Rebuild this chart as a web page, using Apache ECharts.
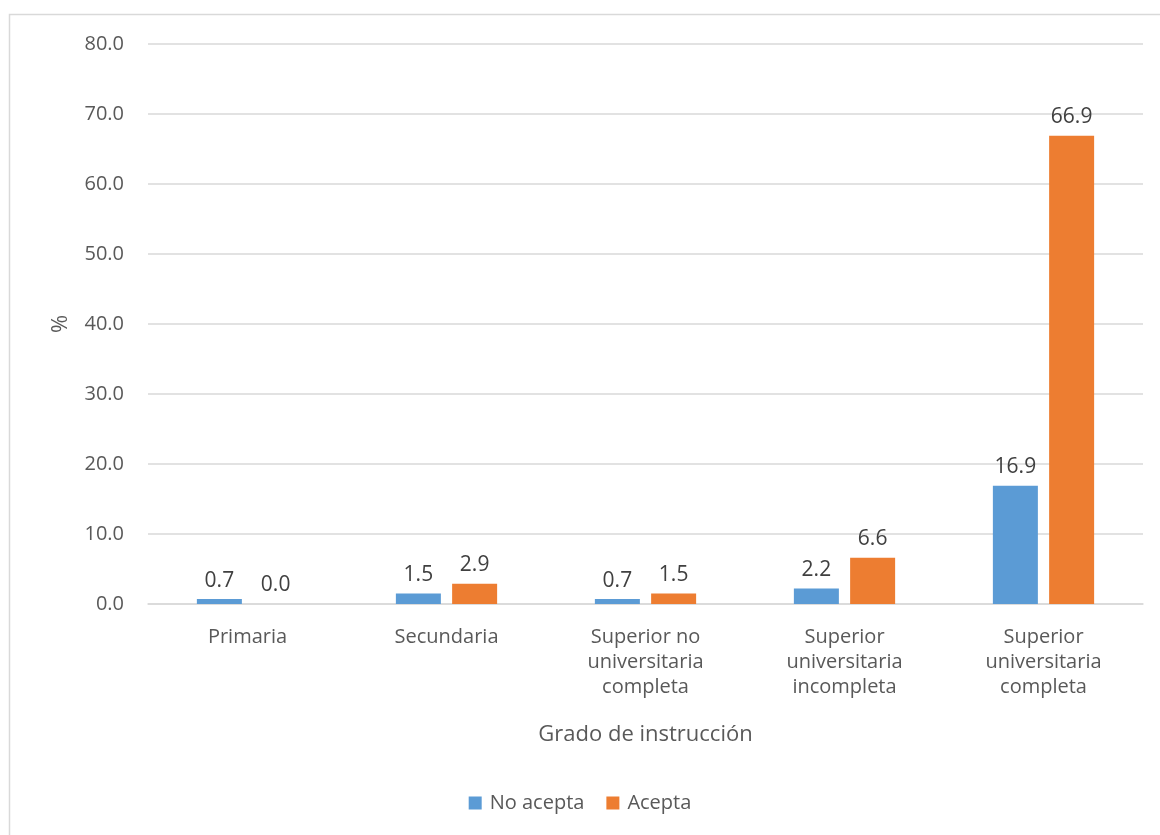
<!DOCTYPE html>
<html>
<head>
<meta charset="utf-8">
<script src="https://cdn.jsdelivr.net/npm/echarts@6/dist/echarts.min.js"></script>
<style>
  html, body { margin: 0; padding: 0; background: #fff; }
  #chart { width: 1160px; height: 835px; }
</style>
</head>
<body>
<div id="chart"></div>
<script>
// Education level categories (multi-line labels)
const categories = [
  'Primaria',
  'Secundaria',
  'Superior no\nuniversitaria\ncompleta',
  'Superior\nuniversitaria\nincompleta',
  'Superior\nuniversitaria\ncompleta'
];
const seriesNames = ['No acepta', 'Acepta'];
const noAcepta = [0.7, 1.5, 0.7, 2.2, 16.9];
const acepta = [0.0, 2.9, 1.5, 6.6, 66.9];
const yTicks = { min: 0, max: 80, interval: 10 };

const FONT = 'Open Sans';
const TEXT = '#595959';

const chart = echarts.init(document.getElementById('chart'));

const label = {
  show: true,
  position: 'top',
  distance: 8,
  color: '#404040',
  fontFamily: FONT,
  fontSize: 21,
  formatter: p => p.value.toFixed(1)
};

chart.setOption({
  animation: false,
  textStyle: { fontFamily: FONT },
  graphic: [{
    type: 'rect',
    silent: true,
    z: -10,
    shape: { x: 9.5, y: 14.5, width: 1200, height: 900 },
    style: { fill: 'none', stroke: '#d9d9d9', lineWidth: 1.5 }
  }],
  grid: { left: 148, right: 17, top: 44, bottom: 231, containLabel: false },
  legend: {
    data: seriesNames,
    bottom: 17,
    left: 'center',
    icon: 'rect',
    itemWidth: 13,
    itemHeight: 13,
    itemGap: 22,
    textStyle: { color: TEXT, fontFamily: FONT, fontSize: 20, padding: [0, 0, 0, 3] }
  },
  xAxis: {
    type: 'category',
    data: categories,
    name: 'Grado de instrucción',
    nameLocation: 'middle',
    nameGap: 120,
    nameTextStyle: { color: TEXT, fontFamily: FONT, fontSize: 22 },
    axisLine: { lineStyle: { color: '#d9d9d9', width: 1.5 } },
    axisTick: { show: false },
    axisLabel: {
      color: TEXT,
      fontFamily: FONT,
      fontSize: 20,
      margin: 21,
      lineHeight: 25,
      interval: 0
    }
  },
  yAxis: {
    type: 'value',
    min: yTicks.min,
    max: yTicks.max,
    interval: yTicks.interval,
    name: '%',
    nameLocation: 'middle',
    nameGap: 76,
    nameRotate: 90,
    nameTextStyle: { color: TEXT, fontFamily: FONT, fontSize: 22 },
    axisLine: { show: false },
    axisTick: { show: false },
    splitLine: { lineStyle: { color: '#d9d9d9', width: 1.5 } },
    axisLabel: {
      color: TEXT,
      fontFamily: FONT,
      fontSize: 20,
      margin: 24,
      formatter: v => v.toFixed(1)
    }
  },
  series: [
    {
      name: seriesNames[0],
      type: 'bar',
      data: noAcepta,
      barWidth: 45,
      barGap: '25%',
      itemStyle: { color: '#5B9BD5' },
      label
    },
    {
      name: seriesNames[1],
      type: 'bar',
      data: acepta,
      barWidth: 45,
      itemStyle: { color: '#ED7D31' },
      label
    }
  ]
});
</script>
</body>
</html>
